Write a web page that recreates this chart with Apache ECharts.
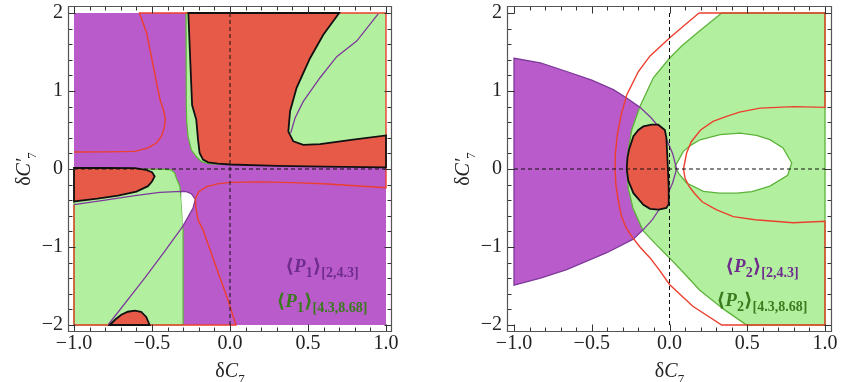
<!DOCTYPE html>
<html>
<head>
<meta charset="utf-8">
<script src="https://cdn.jsdelivr.net/npm/echarts@6/dist/echarts.min.js"></script>
<style>
html, body { margin: 0; padding: 0; background: #fff; }
#chart { width: 841px; height: 382px; }
</style>
</head>
<body>
<div id="chart"></div>
<script>
// ---- data (delta C7, delta C7') ----
const square = [[-1, -2], [1, -2], [1, 2], [-1, 2]];
const zeroH = [[-1, 0], [1, 0]];
const zeroV = [[0, -2], [0, 2]];
const xMajorTicks = [-1, -0.5, 0, 0.5, 1];
const xMinorTicks = [-0.9, -0.8, -0.7, -0.6, -0.4, -0.3, -0.2, -0.1, 0.1, 0.2, 0.3, 0.4, 0.6, 0.7, 0.8, 0.9];
const yMajorTicks = [-2, -1, 0, 1, 2];
const yMinorTicks = [-1.8, -1.6, -1.4, -1.2, -0.8, -0.6, -0.4, -0.2, 0.2, 0.4, 0.6, 0.8, 1.2, 1.4, 1.6, 1.8];

// left panel <P1>
const p1InnerCurve = [[1, 0.43], [0.79, 0.376], [0.577, 0.32], [0.47, 0.31], [0.406, 0.354], [0.374, 0.48],
  [0.385, 0.74], [0.427, 1.04], [0.513, 1.42], [0.598, 1.72], [0.70, 2]];
const p1RedTop = [[-0.267, 2], [-0.255, 1.4], [-0.243, 0.82], [-0.216, 0.63], [-0.205, 0.376], [-0.195, 0.205],
  [-0.173, 0.12], [-0.14, 0.085], [-0.077, 0.068], [0, 0.058], [0.3, 0.04], [0.6, 0.03], [1, 0.022]].concat(p1InnerCurve);
const p1GreenTop = [[-0.282, 2], [-0.28, 0.82], [-0.278, 0.63], [-0.269, 0.418], [-0.248, 0.247], [-0.216, 0.16],
  [-0.184, 0.097], [-0.14, 0.068], [-0.077, 0.062], [0, 0.055], [0, 2]];
const p1GreenRight = p1InnerCurve.concat([[1, 2]]);
const p1GreenLow = [[-1, 0.005], [-0.6, 0.0], [-0.42, -0.005], [-0.376, -0.012], [-0.355, -0.05], [-0.344, -0.115],
  [-0.322, -0.22], [-0.312, -0.39], [-0.305, -0.6], [-0.301, -0.78], [-0.301, -2], [-1, -2]];
const p1RedLeft = [[-1, 0.013], [-0.8, 0.013], [-0.61, 0.01], [-0.54, -0.01], [-0.5, -0.04], [-0.483, -0.095],
  [-0.5, -0.16], [-0.526, -0.22], [-0.6, -0.29], [-0.718, -0.34], [-0.85, -0.38], [-1, -0.415]];
const p1RedLow = [[-0.771, -2], [-0.735, -1.93], [-0.697, -1.868], [-0.655, -1.83], [-0.611, -1.817],
  [-0.57, -1.83], [-0.537, -1.897], [-0.515, -2]];
const p1White = [[-0.312, -0.288], [-0.28, -0.29], [-0.248, -0.317], [-0.222, -0.39], [-0.237, -0.5],
  [-0.27, -0.62], [-0.303, -0.735], [-0.305, -0.6], [-0.312, -0.39]];
const p1PurpleArc = [[-1, -0.457], [-0.8, -0.40], [-0.61, -0.34], [-0.45, -0.30], [-0.312, -0.287], [-0.28, -0.29],
  [-0.248, -0.317], [-0.222, -0.39], [-0.237, -0.5], [-0.27, -0.62], [-0.303, -0.735], [-0.42, -1.06],
  [-0.547, -1.40], [-0.782, -2]];
const p1PurpleDiag = [[0.389, 0.46], [0.417, 0.654], [0.47, 0.867], [0.577, 1.17], [0.684, 1.44], [0.812, 1.64], [0.95, 1.99]];
const p1RedLine = [[-1, 0.218], [-0.8, 0.219], [-0.611, 0.226], [-0.526, 0.27], [-0.472, 0.333], [-0.44, 0.418],
  [-0.419, 0.546], [-0.415, 0.65], [-0.43, 0.78], [-0.449, 0.89], [-0.492, 1.32], [-0.534, 1.74], [-0.58, 2],
  [1, 2], [1, -0.24], [0.8, -0.215], [0.6, -0.19], [0.4, -0.175], [0.2, -0.165], [0, -0.172], [-0.08, -0.19],
  [-0.15, -0.225], [-0.2, -0.29], [-0.222, -0.38], [-0.22, -0.48], [-0.205, -0.65], [-0.173, -0.78],
  [-0.098, -1.205], [-0.013, -1.68], [0.038, -2], [-1, -2], [-1, -0.46]];

// right panel <P2>
const p2Purple = [[-1, 1.42], [-0.83, 1.36], [-0.661, 1.25], [-0.5, 1.14], [-0.361, 1.017], [-0.275, 0.91],
  [-0.19, 0.79], [-0.12, 0.66], [-0.06, 0.52], [-0.018, 0.376], [0.02, 0.2], [0.046, 0.0], [0.02, -0.18],
  [-0.018, -0.35], [-0.06, -0.5], [-0.11, -0.65], [-0.17, -0.78], [-0.233, -0.9], [-0.4, -1.07],
  [-0.661, -1.29], [-0.83, -1.40], [-1, -1.49]];
const p2Green = [[0.336, 2], [0.193, 1.77], [0.08, 1.58], [0, 1.42], [-0.104, 1.17], [-0.19, 0.8], [-0.243, 0.5],
  [-0.268, 0.2], [-0.275, 0.0], [-0.265, -0.25], [-0.235, -0.5], [-0.17, -0.79], [-0.09, -0.96], [0, -1.14],
  [0.1, -1.35], [0.193, -1.55], [0.35, -1.8], [0.496, -2], [1, -2], [1, 2]];
const p2Hole = [[0.035, 0.03], [0.06, 0.12], [0.089, 0.226], [0.14, 0.31], [0.197, 0.375], [0.325, 0.44],
  [0.453, 0.46], [0.56, 0.43], [0.646, 0.376], [0.73, 0.27], [0.786, 0.077], [0.76, -0.08], [0.646, -0.22],
  [0.53, -0.29], [0.432, -0.31], [0.32, -0.31], [0.218, -0.287], [0.11, -0.18], [0.06, -0.06]];
const p2Red = [[-0.072, 0.568], [-0.03, 0.5], [-0.02, 0.4], [-0.015, 0.2], [-0.01, 0.0], [-0.005, -0.25],
  [-0.005, -0.45], [-0.02, -0.5], [-0.07, -0.52], [-0.125, -0.51], [-0.168, -0.46], [-0.232, -0.31],
  [-0.265, -0.15], [-0.275, 0.0], [-0.27, 0.15], [-0.26, 0.25], [-0.232, 0.42], [-0.2, 0.5], [-0.168, 0.546],
  [-0.115, 0.57]];
const p2RedLine = [[0.19, 2], [1, 2], [1, 0.79], [0.8, 0.80], [0.582, 0.78], [0.45, 0.73], [0.367, 0.675],
  [0.28, 0.61], [0.2, 0.5], [0.14, 0.35], [0.11, 0.205], [0.09, 0.0], [0.1, -0.12], [0.125, -0.22],
  [0.16, -0.31], [0.21, -0.42], [0.3, -0.52], [0.41, -0.61], [0.55, -0.65], [0.796, -0.69], [1, -0.67],
  [1, -2], [0.336, -2], [0.15, -1.76], [0, -1.48], [-0.06, -1.31], [-0.125, -1.14], [-0.19, -1.0],
  [-0.243, -0.864], [-0.28, -0.75], [-0.31, -0.6], [-0.33, -0.4], [-0.345, -0.2], [-0.35, 0.0],
  [-0.348, 0.2], [-0.335, 0.45], [-0.31, 0.7], [-0.275, 0.95], [-0.2, 1.25], [-0.125, 1.45], [0, 1.68],
  [0.1, 1.85], [0.19, 2]];

const legendLabels = [['1', '[2,4.3]'], ['1', '[4.3,8.68]'], ['2', '[2,4.3]'], ['2', '[4.3,8.68]']];

// ---- styling ----
const SERIF = '"Liberation Serif", "DejaVu Serif", serif';
const PURPLE = '#B95BCB', GREEN = '#B2F0A0', RED = '#E85A48';
const PURPLE_LINE = '#7E3A9A', GREEN_LINE = '#5DB33A', RED_LINE = '#EC3F2E';
const TICK = '#333';
const frames = [
  { x: 68.5, y: 6.5, w: 323, h: 325 },
  { x: 507.5, y: 6.5, w: 324, h: 325 }
];

function shapeSeries(g, pts, style, kind) {
  return {
    type: 'custom', xAxisIndex: 2 * g, yAxisIndex: 2 * g,
    silent: true, animation: false,
    data: pts,
    renderItem: function (params, api) {
      if (params.dataIndex !== 0) return null;
      const points = pts.map(function (d) { return api.coord(d); });
      return { type: kind || 'polygon', shape: { points: points }, style: style };
    }
  };
}
const fill = function (c) { return { fill: c, stroke: null }; };
const line = function (c, w, dash) { return { fill: 'none', stroke: c, lineWidth: w, lineDash: dash || null }; };
const fillLine = function (c, s, w) { return { fill: c, stroke: s, lineWidth: w }; };

// frame ticks (inward, on all four sides) placed through the axis scales
function tickSeries(g) {
  const f = frames[g];
  return {
    type: 'custom', xAxisIndex: 2 * g, yAxisIndex: 2 * g,
    silent: true, animation: false, z: 6,
    data: [0],
    renderItem: function (params, api) {
      const kids = [];
      const seg = function (x1, y1, x2, y2) {
        kids.push({ type: 'line', shape: { x1: x1, y1: y1, x2: x2, y2: y2 }, style: { stroke: TICK, lineWidth: 1 } });
      };
      const top = f.y, bot = f.y + f.h, left = f.x, right = f.x + f.w;
      [[xMajorTicks, 7], [xMinorTicks, 4]].forEach(function (set) {
        set[0].forEach(function (v) {
          const px = Math.round(api.coord([v, 0])[0]) + 0.5;
          seg(px, bot, px, bot - set[1]);
          seg(px, top, px, top + set[1]);
        });
      });
      [[yMajorTicks, 7], [yMinorTicks, 4]].forEach(function (set) {
        set[0].forEach(function (v) {
          const py = Math.round(api.coord([0, v])[1]) + 0.5;
          seg(left, py, left + set[1], py);
          seg(right, py, right - set[1], py);
        });
      });
      return { type: 'group', children: kids };
    }
  };
}

const nameRich = {
  a: { fontFamily: SERIF, fontSize: 20, color: '#222', padding: [0, 0, 4, 0], verticalAlign: 'top' },
  c: { fontFamily: SERIF, fontSize: 20, fontStyle: 'italic', color: '#222', padding: [0, 0, 4, 0], verticalAlign: 'top' },
  s: { fontFamily: SERIF, fontSize: 13, color: '#222', verticalAlign: 'bottom' }
};
const minus = function (s) { return s.replace('-', '\u2212'); };

function mkAxis(dim, g, pos, labels, off) {
  const o = {
    type: 'value', gridIndex: g, position: pos, offset: off,
    min: dim === 'x' ? -1 : -2, max: dim === 'x' ? 1 : 2, interval: dim === 'x' ? 0.5 : 1,
    axisLine: { show: false, onZero: false },
    axisTick: { show: false },
    minorTick: { show: false },
    splitLine: { show: false },
    axisLabel: { show: false }
  };
  if (labels) {
    o.axisLabel = {
      margin: dim === 'x' ? 2 : 5, fontFamily: SERIF, fontSize: 20, color: '#222',
      formatter: dim === 'x' ? function (v) { return minus(v.toFixed(1)); } : function (v) { return minus(String(v)); }
    };
    o.name = dim === 'x' ? '{a|\u03b4}{c|C}{s|7}' : '{a|\u03b4}{c|C\u2032}{s|7}';
    o.nameLocation = 'middle';
    o.nameGap = dim === 'x' ? 30 : 29;
    o.nameMoveOverlap = false;
    if (dim === 'y') o.nameRotate = 90;
    o.nameTextStyle = { fontFamily: SERIF, fontSize: 20, color: '#222', rich: nameRich };
  }
  return o;
}

function legendRich(color) {
  return {
    m: { fontFamily: SERIF, fontSize: 19, fontWeight: 'bold', fill: color, padding: [0, 0, 3, 0], verticalAlign: 'top' },
    p: { fontFamily: SERIF, fontSize: 19, fontWeight: 'bold', fontStyle: 'italic', fill: color, padding: [0, 0, 3, 0], verticalAlign: 'top' },
    s: { fontFamily: SERIF, fontSize: 14, fontWeight: 'bold', fill: color, verticalAlign: 'bottom' }
  };
}
function legendText(x, y, lab, color) {
  return {
    type: 'text', x: x, y: y, z: 20,
    style: {
      text: '{m|\u27e8}{p|P}{s|' + lab[0] + '}{m|\u27e9}{s|' + lab[1] + '}',
      align: 'center', verticalAlign: 'middle', rich: legendRich(color)
    }
  };
}
function frameRect(f) {
  return { type: 'rect', z: 10, shape: { x: f.x, y: f.y, width: f.w, height: f.h },
    style: { fill: 'none', stroke: '#555', lineWidth: 1.2 } };
}

const chart = echarts.init(document.getElementById('chart'));
const option = {
  animation: false,
  backgroundColor: '#fff',
  grid: [
    { left: 74, top: 13, width: 312, height: 312, outerBoundsMode: 'none', containLabel: false },
    { left: 514, top: 13, width: 311, height: 312, outerBoundsMode: 'none', containLabel: false }
  ],
  xAxis: [mkAxis('x', 0, 'bottom', true, 7), mkAxis('x', 0, 'top', false, 7),
          mkAxis('x', 1, 'bottom', true, 7), mkAxis('x', 1, 'top', false, 7)],
  yAxis: [mkAxis('y', 0, 'left', true, 6), mkAxis('y', 0, 'right', false, 6),
          mkAxis('y', 1, 'left', true, 7), mkAxis('y', 1, 'right', false, 7)],
  graphic: [
    frameRect(frames[0]),
    frameRect(frames[1]),
    legendText(322, 269, legendLabels[0], '#6E2C8C'),
    legendText(322, 304, legendLabels[1], '#3C7A1E'),
    legendText(762, 269, legendLabels[2], '#6E2C8C'),
    legendText(762, 303, legendLabels[3], '#3C7A1E')
  ],
  series: [
    // left panel
    shapeSeries(0, square, fill(PURPLE)),
    shapeSeries(0, p1GreenTop, fillLine(GREEN, GREEN_LINE, 1.2)),
    shapeSeries(0, p1GreenRight, fill(GREEN)),
    shapeSeries(0, p1GreenLow, fillLine(GREEN, GREEN_LINE, 1.2)),
    shapeSeries(0, p1White, fill('#fff')),
    shapeSeries(0, p1RedTop, fill(RED)),
    shapeSeries(0, p1RedLeft, fill(RED)),
    shapeSeries(0, p1RedLow, fill(RED)),
    shapeSeries(0, p1PurpleArc, line(PURPLE_LINE, 1.3), 'polyline'),
    shapeSeries(0, p1PurpleDiag, line(PURPLE_LINE, 1.3), 'polyline'),
    shapeSeries(0, p1RedLine, line(RED_LINE, 1.4), 'polyline'),
    shapeSeries(0, p1RedTop, line('#111', 1.8)),
    shapeSeries(0, p1RedLeft, line('#111', 1.8)),
    shapeSeries(0, p1RedLow, line('#111', 1.8)),
    shapeSeries(0, zeroH, line('#111', 1, [4, 3]), 'polyline'),
    shapeSeries(0, zeroV, line('#111', 1, [4, 3]), 'polyline'),
    tickSeries(0),
    // right panel
    shapeSeries(1, p2Purple, fill(PURPLE)),
    shapeSeries(1, p2Green, fillLine(GREEN, GREEN_LINE, 1.3)),
    shapeSeries(1, p2Hole, fillLine('#fff', GREEN_LINE, 1.3)),
    shapeSeries(1, p2Purple, line(PURPLE_LINE, 1.3)),
    shapeSeries(1, p2Red, fill(RED)),
    shapeSeries(1, p2RedLine, line(RED_LINE, 1.4), 'polyline'),
    shapeSeries(1, p2Red, line('#111', 1.8)),
    shapeSeries(1, zeroH, line('#111', 1, [4, 3]), 'polyline'),
    shapeSeries(1, zeroV, line('#111', 1, [4, 3]), 'polyline'),
    tickSeries(1)
  ]
};
chart.setOption(option);
</script>
</body>
</html>
